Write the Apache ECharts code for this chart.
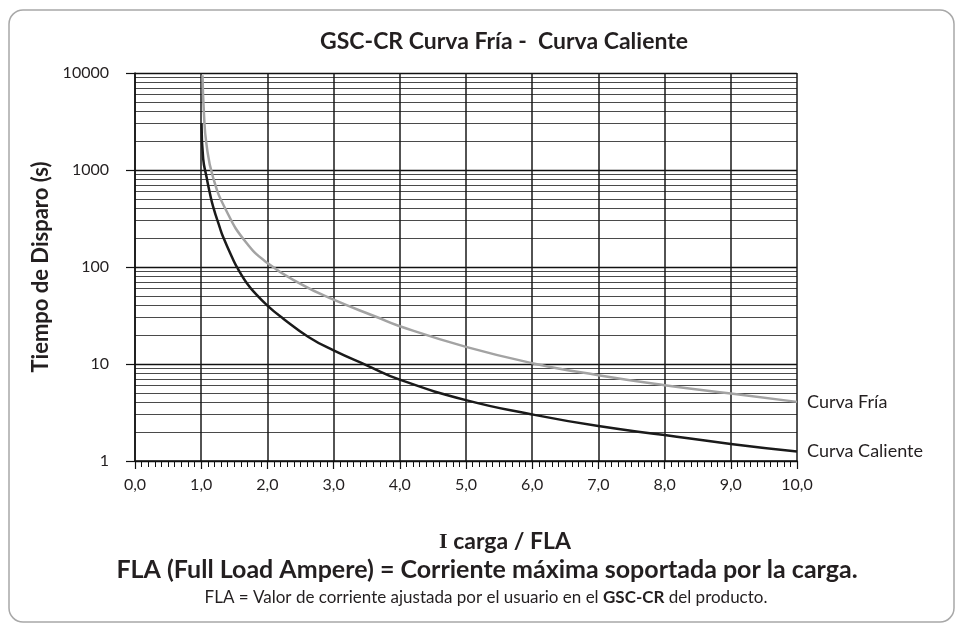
<!DOCTYPE html>
<html><head><meta charset="utf-8">
<script src="https://cdn.jsdelivr.net/npm/echarts@6/dist/echarts.min.js"></script>
<style>html,body{margin:0;padding:0;background:#fff}#c{width:961px;height:625px}</style>
</head><body><div id="c"></div>
<script>
// Curva Fría (gray)
const friaX = [1.02, 1.04, 1.08, 1.18, 1.38, 1.67, 2.0, 2.5, 3.0, 3.65, 4.0, 5.0, 6.0, 7.0, 8.0, 9.0, 10.0];
const friaY = [9500, 4000, 1840, 836, 380, 182, 110, 67, 46, 30.5, 24.5, 15, 10.2, 7.65, 6.04, 4.96, 4.07];
// Curva Caliente (black)
const calX = [1.005, 1.03, 1.08, 1.13, 1.18, 1.28, 1.33, 1.49, 1.54, 1.59, 1.69, 1.8, 2.0, 2.24, 2.62, 3.0, 3.5, 4.0, 5.0, 6.0, 7.0, 8.0, 9.0, 10.0];
const calY = [3000, 1300, 850, 580, 420, 256, 205, 116, 100, 87, 68, 55, 40, 29.3, 19, 13.8, 9.7, 6.9, 4.24, 3.02, 2.29, 1.85, 1.5, 1.25];
const xTicks = ['0,0','1,0','2,0','3,0','4,0','5,0','6,0','7,0','8,0','9,0','10,0'];
const yTicks = ['1','10','100','1000','10000'];

const FONT = 'Lato';
const TXT = '#231f20';
const chart = echarts.init(document.getElementById('c'));
chart.setOption({
  animation: false,
  backgroundColor: '#fff',
  title: {
    text: 'GSC-CR Curva Fría -  Curva Caliente',
    left: 499, textAlign: 'center', top: 25,
    textStyle: {fontFamily: FONT, fontWeight: 'bold', fontSize: 23, color: TXT}
  },
  grid: {left: 135, right: 164, top: 73, bottom: 164},
  xAxis: {
    type: 'value', min: 0, max: 10, interval: 1,
    axisLine: {show: true, lineStyle: {color: '#111', width: 1.5}},
    axisTick: {show: true, inside: false, length: 8, lineStyle: {color: '#111', width: 1.2}},
    minorTick: {show: true, splitNumber: 10, length: 6, lineStyle: {color: '#111', width: 1}},
    splitLine: {show: true, lineStyle: {color: '#1a1a1a', width: 1.5}},
    axisLabel: {margin: 16, fontFamily: FONT, fontSize: 16, color: TXT,
      formatter: v => xTicks[Math.round(v)]}
  },
  yAxis: {
    type: 'log', logBase: 10, min: 1, max: 10000,
    name: 'Tiempo de Disparo (s)', nameLocation: 'middle', nameGap: 78,
    nameTextStyle: {fontFamily: FONT, fontWeight: 'bold', fontSize: 22, color: TXT},
    axisLine: {show: true, lineStyle: {color: '#111', width: 1.5}},
    axisTick: {show: true, length: 9, lineStyle: {color: '#111', width: 1.2}},
    splitLine: {show: true, lineStyle: {color: '#111', width: 1.3}},
    minorTick: {show: false, splitNumber: 9},
    minorSplitLine: {show: true, lineStyle: {color: '#4a4a4a', width: 1}},
    axisLabel: {margin: 26, fontFamily: FONT, fontSize: 16, color: TXT,
      formatter: v => yTicks[Math.round(Math.log10(v))]}
  },
  series: [
    {
      name: 'Curva Fría', type: 'line', showSymbol: false, smooth: 0.5,
      data: friaX.map((x, i) => [x, friaY[i]]),
      lineStyle: {color: '#a3a3a3', width: 2.5}, itemStyle: {color: '#a3a3a3'},
      endLabel: {show: true, formatter: '{a}', distance: 10, fontFamily: FONT, fontSize: 18, color: TXT},
      z: 3
    },
    {
      name: 'Curva Caliente', type: 'line', showSymbol: false, smooth: 0.5,
      data: calX.map((x, i) => [x, calY[i]]),
      lineStyle: {color: '#1a1a1a', width: 2.5}, itemStyle: {color: '#1a1a1a'},
      endLabel: {show: true, formatter: '{a}', distance: 10, fontFamily: FONT, fontSize: 18, color: TXT},
      z: 4
    }
  ],
  graphic: [
    {type: 'rect', shape: {x: 9, y: 10, width: 945, height: 612, r: 14}, silent: true,
      style: {fill: 'none', stroke: '#a8a8a8', lineWidth: 1.5}, z: -1},
    {type: 'text', x: 505, y: 542, silent: true,
      style: {text: '{s|I} carga / FLA', align: 'center', verticalAlign: 'middle',
        fontFamily: FONT, fontWeight: 'bold', fontSize: 23, fill: TXT,
        rich: {s: {fontFamily: 'Liberation Serif', fontWeight: 'bold', fontSize: 22, fill: TXT}}}},
    {type: 'text', x: 487, y: 570, silent: true,
      style: {text: 'FLA (Full Load Ampere) = Corriente máxima soportada por la carga.', align: 'center', verticalAlign: 'middle',
        fontFamily: FONT, fontWeight: 'bold', fontSize: 25, fill: TXT}},
    {type: 'text', x: 486, y: 598, silent: true,
      style: {text: 'FLA = Valor de corriente ajustada por el usuario en el {b|GSC-CR} del producto.', align: 'center', verticalAlign: 'middle',
        fontFamily: FONT, fontSize: 17, fill: TXT,
        rich: {b: {fontFamily: FONT, fontWeight: 'bold', fontSize: 17, fill: TXT}}}}
  ]
});
</script></body></html>
